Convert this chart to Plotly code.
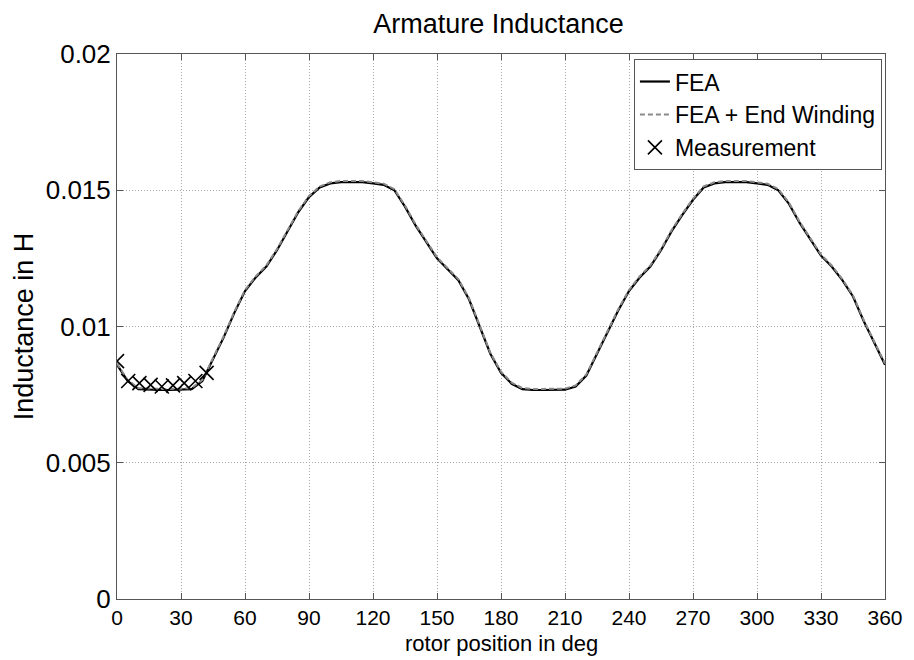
import plotly.graph_objects as go

deg = [0, 5, 10, 15, 20, 25, 30, 35, 40, 45, 50, 55, 60, 65, 70, 75, 80, 85, 90,
       95, 100, 105, 110, 115, 120, 125, 130, 135, 140, 145, 150, 155, 160, 165,
       170, 175, 180, 185, 190, 195, 200, 205, 210, 215, 220, 225, 230, 235, 240,
       245, 250, 255, 260, 265, 270, 275, 280, 285, 290, 295, 300, 305, 310, 315,
       320, 325, 330, 335, 340, 345, 350, 355, 360]

fea = [0.0086, 0.0080, 0.0077, 0.00768, 0.00767, 0.00767, 0.00768, 0.0077, 0.0080,
       0.0088, 0.0096, 0.0105, 0.0113, 0.0118, 0.0122, 0.0128, 0.0135, 0.0142, 0.01475,
       0.0151, 0.01525, 0.0153, 0.0153, 0.0153, 0.01525, 0.0152, 0.0150, 0.0144, 0.0137,
       0.0131, 0.0125, 0.0121, 0.0117, 0.0110, 0.0100, 0.0090, 0.0083, 0.0079, 0.0077,
       0.00767, 0.00767, 0.00767, 0.00768, 0.0078, 0.0082, 0.0090, 0.0098, 0.0106, 0.0113,
       0.0118, 0.0122, 0.0128, 0.0135, 0.0141, 0.01465, 0.0151, 0.01525, 0.0153, 0.0153,
       0.0153, 0.01525, 0.0152, 0.0150, 0.0145, 0.0138, 0.0132, 0.0126, 0.0122, 0.0117,
       0.0111, 0.0102, 0.0094, 0.0086]

fea_ew = [0.00864, 0.00804, 0.00774, 0.00772, 0.00771, 0.00771, 0.00772, 0.00774, 0.00804,
          0.00884, 0.00964, 0.01054, 0.01134, 0.01184, 0.01224, 0.01284, 0.01354, 0.01424, 0.01479,
          0.01514, 0.01529, 0.01534, 0.01534, 0.01534, 0.01529, 0.01524, 0.01504, 0.01444, 0.01374,
          0.01314, 0.01254, 0.01214, 0.01174, 0.01104, 0.01004, 0.00904, 0.00834, 0.00794, 0.00774,
          0.00771, 0.00771, 0.00771, 0.00772, 0.00784, 0.00824, 0.00904, 0.00984, 0.01064, 0.01134,
          0.01184, 0.01224, 0.01284, 0.01354, 0.01414, 0.01469, 0.01514, 0.01529, 0.01534, 0.01534,
          0.01534, 0.01529, 0.01524, 0.01504, 0.01454, 0.01384, 0.01324, 0.01264, 0.01224, 0.01174,
          0.01114, 0.01024, 0.00944, 0.00864]

meas_deg = [0, 5.25, 10.5, 15.75, 21, 26.25, 31.5, 36.75, 42]
meas = [0.00873, 0.00800, 0.00792, 0.00786, 0.00780, 0.00784, 0.00792, 0.00800, 0.00830]

x_ticks = [0, 30, 60, 90, 120, 150, 180, 210, 240, 270, 300, 330, 360]
y_ticks = [0, 0.005, 0.01, 0.015, 0.02]
y_tick_text = ["0", "0.005", "0.01", "0.015", "0.02"]

FONT = "Liberation Sans, Arial, sans-serif"

fig = go.Figure()
fig.add_trace(go.Scatter(x=deg, y=fea, mode="lines", name="FEA",
                         line=dict(color="black", width=2.2)))
fig.add_trace(go.Scatter(x=deg, y=fea_ew, mode="lines", name="FEA + End Winding",
                         line=dict(color="#8a8a8a", width=2, dash="5px,3px")))
fig.add_trace(go.Scatter(x=meas_deg, y=meas, mode="markers", name="Measurement",
                         marker=dict(symbol="x-thin", size=14, color="black",
                                     line=dict(color="black", width=1.6))))

axis_common = dict(showline=True, linecolor="#555555", linewidth=1, mirror="ticks",
                   ticks="inside", ticklen=6, tickcolor="#555555",
                   showgrid=True, gridcolor="#a8a8a8", griddash="1px,2px", gridwidth=1,
                   zeroline=False, automargin=False)

fig.update_layout(
    width=914, height=660,
    margin=dict(l=117, r=29, t=54, b=61),
    paper_bgcolor="white", plot_bgcolor="white",
    title=dict(text="Armature Inductance", x=0.5454, xanchor="center", y=0.9636,
               yanchor="middle", font=dict(family=FONT, size=27, color="black")),
    xaxis=dict(range=[0, 360], tickvals=x_ticks,
               tickfont=dict(family=FONT, size=21, color="black"),
               **axis_common),
    yaxis=dict(range=[0, 0.02], tickvals=y_ticks, ticktext=y_tick_text,
               tickfont=dict(family=FONT, size=26, color="black"),
               title=dict(text="Inductance in H", standoff=4,
                          font=dict(family=FONT, size=27, color="black")),
               **axis_common),
    legend=dict(x=0.996, y=0.9907, xanchor="right", yanchor="top",
                bgcolor="white", bordercolor="#555555", borderwidth=1,
                font=dict(family=FONT, size=23, color="black"),
                tracegroupgap=0, itemwidth=30),
    showlegend=True,
    annotations=[dict(text="rotor position in deg", xref="paper", yref="paper",
                      x=0.5, y=-0.109, xanchor="center", yanchor="bottom",
                      showarrow=False,
                      font=dict(family=FONT, size=22, color="black"))],
)

fig.write_html("out.html")
